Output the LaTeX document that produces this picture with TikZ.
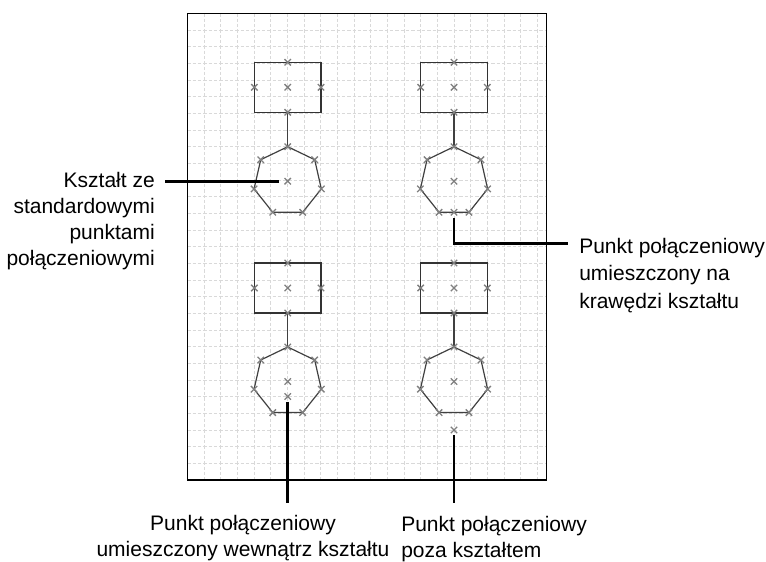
\documentclass[tikz,border=0pt]{standalone}
\usepackage{fontspec}
\setmainfont{Liberation Sans}
\usetikzlibrary{calc, shapes.geometric}

\begin{document}
\begin{tikzpicture}[x=0.75pt, y=-0.75pt, every node/.style={font=\fontsize{15.75}{19.5}\selectfont},
  box/.style={draw=black!80, line width=0.9pt, minimum width=50pt, minimum height=37.5pt, inner sep=0pt, outer sep=0pt},
  hept/.style={draw=black!75, line width=0.9pt, regular polygon, regular polygon sides=7, minimum size=51.75pt, inner sep=0pt, outer sep=0pt},
  link/.style={draw=black!75, line width=1.1pt},
  gridline/.style={gray!30, line width=0.4pt, dash pattern=on 2.5pt off 1.5pt},
  callout/.style={line width=2.2pt, shorten <=4pt},
  cpt/.pic={\draw[gray, line width=1pt] (-3.2,-3.2) -- (3.2,3.2) (-3.2,3.2) -- (3.2,-3.2);}]
  \useasboundingbox (0,0) rectangle (766,561);
  % sheet with grid
  \foreach \gx in {1,...,21} \draw[gridline] ({187.3+16.67*\gx},13.3) -- ({187.3+16.67*\gx},480);
  \foreach \gy in {1,...,27} \draw[gridline] (187.3,{13.3+16.67*\gy}) -- (546.7,{13.3+16.67*\gy});
  \draw[line width=1.1pt] (187.3,13.3) rectangle (546.7,480);

  \node[box] (box1) at (287.7,87.3) {};
  \node[box] (box2) at (454,87.3) {};
  \node[box] (box3) at (287.7,288) {};
  \node[box] (box4) at (454,288) {};
  \node[hept] (hept1) at (287.7,181.2) {};
  \node[hept] (hept2) at (454,181.2) {};
  \node[hept] (hept3) at (287.7,381.5) {};
  \node[hept] (hept4) at (454,381.5) {};
  \foreach \i in {1,...,4} \draw[link] (box\i.south) -- (hept\i.corner 1);

  % connection points
  \foreach \i in {1,...,4} {
    \foreach \a in {north,south,east,west,center} \pic at (box\i.\a) {cpt};
    \foreach \c in {1,...,7} \pic at (hept\i.corner \c) {cpt};
    \pic at (hept\i.center) {cpt};
  }
  \coordinate (onedge) at (hept2.side 4);
  \coordinate (inside) at ($(hept3.center)+(0,15)$);
  \coordinate (outside) at ($(hept4.center)+(0,48.5)$);
  \foreach \p in {onedge,inside,outside} \pic at (\p) {cpt};

  \node[anchor=north east, align=right, inner sep=0pt] (kszt) at (155,172) {Kształt ze\\standardowymi\\punktami\\połączeniowymi};
  \node[anchor=north west, align=left, inner sep=0pt] (krawedz) at (579,238) {Punkt połączeniowy\\[1pt]umieszczony na\\[1pt]krawędzi kształtu};
  \node[anchor=north, align=center, inner sep=0pt] (wewnatrz) at (243,515) {Punkt połączeniowy\\umieszczony wewnątrz kształtu};
  \node[anchor=north west, align=left, inner sep=0pt] (poza) at (401,516) {Punkt połączeniowy\\poza kształtem};

  \draw[callout, shorten <=6.5pt, shorten >=7.5pt] (hept1.center) -- (hept1.center -| kszt.east);
  \draw[callout] (onedge) |- ($(krawedz.north west)+(-11,5.5)$);
  \draw[callout, shorten >=9pt] (inside) -- (inside |- wewnatrz.north);
  \draw[callout, shorten >=9.75pt] (outside) -- (outside |- poza.north);
\end{tikzpicture}
\end{document}
